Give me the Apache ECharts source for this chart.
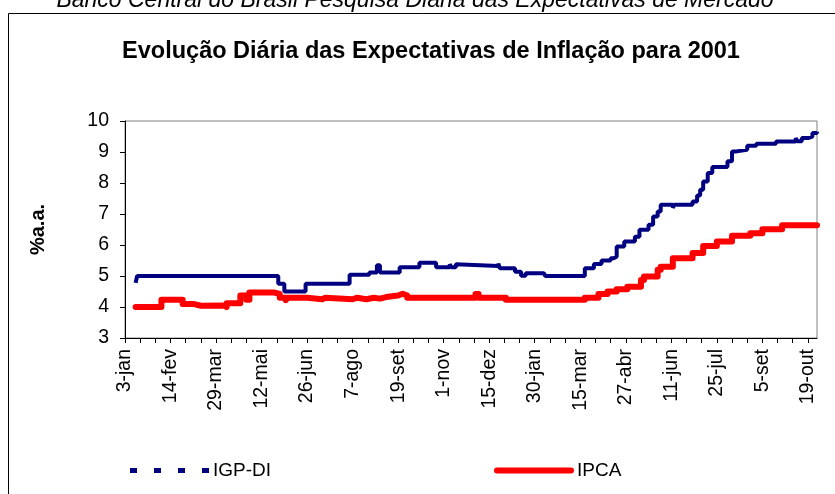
<!DOCTYPE html>
<html><head><meta charset="utf-8">
<script src="https://cdn.jsdelivr.net/npm/echarts@6/dist/echarts.min.js"></script>
<style>html,body{margin:0;padding:0;background:#fff}#c{width:835px;height:494px}</style>
</head><body><div id="c"></div>
<script>
// Tick labels (every 30 business days) and number of business days on the axis
const tickLabels = ['3-jan','14-fev','29-mar','12-mai','26-jun','7-ago','19-set','1-nov','15-dez','30-jan','15-mar','27-abr','11-jun','25-jul','5-set','19-out'];
const businessDays = 457;

// Change points [business-day index, value] (value holds until next point)
const igpDi = [
  [7,4.78],[8,5.0],[101,4.75],[105,4.5],[119,4.75],[148,5.04],[161,5.11],[166,5.35],[168,5.11],
  [181,5.28],[194,5.43],[205,5.28],[214,5.38],[215,5.28],[218,5.38],[219,5.32],[246,5.4],[247,5.25],
  [257,5.14],[261,5.01],[264,5.09],[276,5.15],[277,5.0],[303,5.25],[309,5.39],[314,5.5],[320,5.57],
  [322,5.62],[324,5.95],[329,6.11],[336,6.27],[339,6.49],[345,6.65],[348,6.92],[351,7.08],[353,7.3],
  [361,7.2],[362,7.3],[374,7.4],[377,7.6],[379,7.78],[381,8.05],[384,8.32],[387,8.52],[397,8.7],
  [400,9.02],[403,9.07],[410,9.2],[416,9.27],[429,9.34],[442,9.45],[443,9.35],[446,9.45],[450,9.5],
  [453,9.61],[456,9.65]
];
const ipca = [
  [7,4.0],[24,4.23],[38,4.1],[45,4.04],[50,4.0],[51,4.05],[65,4.0],[67,4.12],[76,4.37],[80,4.23],
  [82,4.47],[98,4.42],[102,4.3],[106,4.22],[107,4.3],[120,4.25],[130,4.3],[132,4.25],[150,4.3],
  [153,4.25],[159,4.3],[164,4.27],[168,4.32],[172,4.37],[180,4.43],[183,4.37],[186,4.3],[231,4.42],
  [233,4.3],[251,4.23],[303,4.3],[312,4.42],[318,4.5],[324,4.57],[331,4.65],[340,4.87],[342,4.98],
  [351,5.2],[353,5.3],[361,5.57],[374,5.74],[381,5.97],[390,6.11],[400,6.3],[412,6.38],[420,6.51],
  [433,6.64],[456,6.66]
];
const yTicks = {min: 3, max: 10, interval: 1};

const categories = Array.from({length: businessDays}, (_, i) => String(i));
const chart = echarts.init(document.getElementById('c'), null, {renderer: 'canvas'});
const font = 'Liberation Sans, Arial, sans-serif';
chart.setOption({
  animation: false,
  backgroundColor: '#ffffff',
  title: [
    {text: 'Banco Central do Brasil Pesquisa Diária das Expectativas de Mercado', left: 410, textAlign: 'center', top: -16,
     textStyle: {fontFamily: font, fontStyle: 'italic', fontWeight: 'normal', fontSize: 23, color: '#000'}},
    {text: 'Evolução Diária das Expectativas de Inflação para 2001', left: 426, textAlign: 'center', top: 35,
     textStyle: {fontFamily: font, fontWeight: 'bold', fontSize: 23.5, color: '#000'}}
  ],
  graphic: [
    {type: 'rect', shape: {x: 8.5, y: 13.5, width: 900, height: 600}, style: {fill: 'none', stroke: '#000', lineWidth: 1}, silent: true, z: -1}
  ],
  grid: {left: 125, right: 18, top: 121, bottom: 156, show: true, borderColor: '#808080', borderWidth: 1, backgroundColor: 'transparent'},
  legend: [
    {data: [{name: 'IGP-DI', icon: 'path://M0,0h7v5h-7zM24,0h7v5h-7zM48,0h7v5h-7zM72,0h7v5h-7z'}], left: 125, top: 456,
     itemWidth: 79, itemHeight: 5, itemGap: 0, symbolKeepAspect: false,
     textStyle: {fontFamily: font, fontSize: 19, color: '#000', padding: [0, 0, 0, -1]}},
    {data: [{name: 'IPCA', icon: 'path://M3,0h74a3,3 0 0 1 0,6h-74a3,3 0 0 1 0,-6z'}], left: 489, top: 456,
     itemWidth: 80, itemHeight: 6, itemGap: 0, symbolKeepAspect: false,
     textStyle: {fontFamily: font, fontSize: 19, color: '#000', padding: [0, 0, 0, -2]}}
  ],
  xAxis: {
    type: 'category', data: categories, boundaryGap: false,
    axisLine: {lineStyle: {color: '#000', width: 1}},
    axisTick: {interval: (i) => i % 10 === 0, length: 5, lineStyle: {color: '#000'}},
    axisLabel: {interval: (i) => i % 30 === 0, rotate: 90, margin: 11, fontFamily: font, fontSize: 19.5, color: '#000',
      formatter: (v, i) => tickLabels[Math.round(i / 30)] || ''},
    splitLine: {show: false}
  },
  yAxis: {
    type: 'value', min: yTicks.min, max: yTicks.max, interval: yTicks.interval,
    name: '%a.a.', nameLocation: 'middle', nameGap: 77, nameRotate: 90,
    nameTextStyle: {fontFamily: font, fontWeight: 'bold', fontSize: 20, color: '#000'},
    axisLine: {show: true, lineStyle: {color: '#000', width: 1}},
    axisTick: {show: true, length: 5, lineStyle: {color: '#000'}},
    axisLabel: {margin: 16, fontFamily: font, fontSize: 19.5, color: '#000'},
    splitLine: {show: false}
  },
  series: [
    {name: 'IGP-DI', type: 'line', step: 'end', data: igpDi, showSymbol: false, symbol: 'none',
     color: '#000080', lineStyle: {color: '#000080', width: 4}, z: 3},
    {name: 'IPCA', type: 'line', step: 'end', data: ipca, showSymbol: false, symbol: 'none',
     color: '#ff0000', lineStyle: {color: '#ff0000', width: 6, cap: 'round', join: 'round'}, z: 2}
  ]
});
</script></body></html>
